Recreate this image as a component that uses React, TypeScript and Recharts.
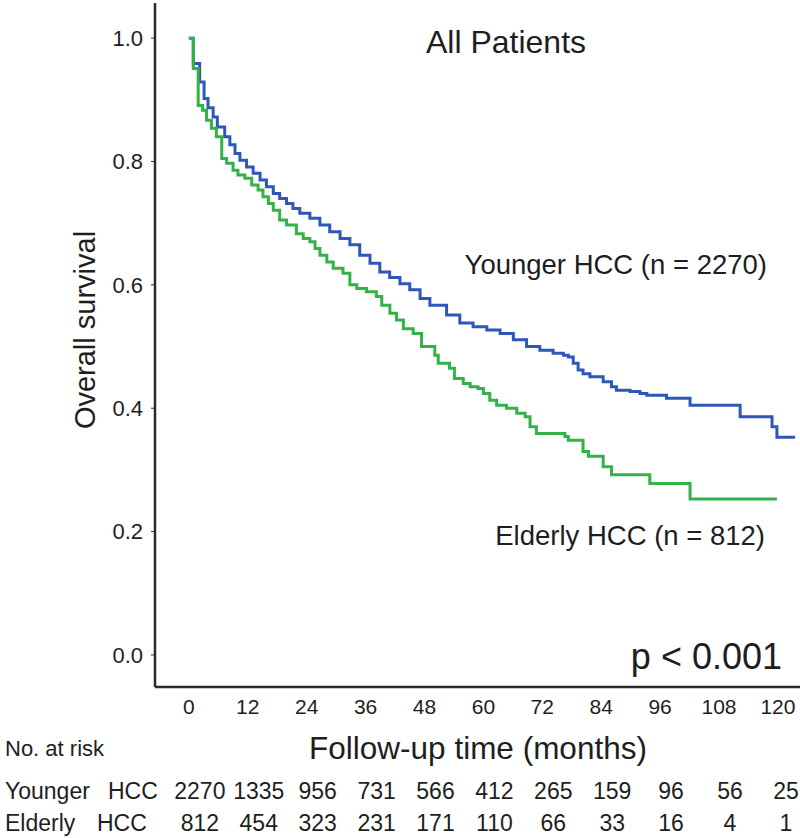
import { LineChart, Line, XAxis, YAxis } from 'recharts';

// Kaplan-Meier steps (month of drop, survival after drop)
const youngerMonths = [
  0, 0.9, 2.2, 3.1, 3.9, 4.95, 5.8, 7.3, 8.35, 9.4, 10.4, 11.75, 13.1, 14.5, 15.8,
  17.2, 18.5, 19.9, 21.2, 22.6, 24.65, 26.7, 28.7, 30.8, 32.8, 34.8, 36.9, 38.9,
  40.9, 43.0, 45.0, 47.1, 49.1, 52.5, 55.2, 57.9, 60.7, 63.4, 66.1, 68.8, 71.5,
  74.2, 76.3, 77.3, 78.3, 79.3, 80.3, 81.7, 84.4, 86.1, 87.1, 89.9, 91.9, 93.3,
  97.3, 102.1, 112.3, 118.8, 119.8, 123.5,
];
const youngerSurvival = [
  1.0, 0.959, 0.929, 0.902, 0.887, 0.872, 0.856, 0.84, 0.827, 0.813, 0.802, 0.791,
  0.781, 0.77, 0.759, 0.748, 0.74, 0.732, 0.724, 0.716, 0.708, 0.697, 0.686, 0.675,
  0.665, 0.648, 0.635, 0.621, 0.612, 0.602, 0.592, 0.578, 0.567, 0.551, 0.538,
  0.532, 0.527, 0.521, 0.511, 0.5, 0.494, 0.489, 0.486, 0.483, 0.473, 0.462, 0.456,
  0.451, 0.443, 0.435, 0.429, 0.427, 0.424, 0.421, 0.416, 0.405, 0.386, 0.37, 0.353,
  0.353,
];

const elderlyMonths = [
  0, 0.9, 1.9, 2.8, 3.6, 4.6, 5.6, 6.7, 7.7, 9.0, 10.0, 11.4, 12.8, 14.1, 15.1,
  16.2, 17.2, 18.5, 19.9, 21.9, 23.3, 24.65, 25.7, 26.7, 28.1, 29.4, 31.4, 32.8,
  34.2, 36.2, 38.2, 39.3, 40.95, 42.3, 43.7, 45.7, 47.4, 50.1, 50.8, 53.1, 54.1,
  55.9, 57.3, 58.9, 60.0, 61.3, 62.7, 64.7, 66.8, 68.5, 69.5, 70.8, 76.6, 77.3,
  80.3, 81.4, 84.4, 86.1, 93.9, 102.1, 119.8,
];
const elderlySurvival = [
  1.0, 0.951, 0.891, 0.883, 0.867, 0.854, 0.84, 0.805, 0.797, 0.786, 0.778, 0.773,
  0.762, 0.754, 0.743, 0.732, 0.721, 0.705, 0.697, 0.683, 0.675, 0.67, 0.659, 0.648,
  0.637, 0.627, 0.619, 0.6, 0.594, 0.589, 0.581, 0.567, 0.554, 0.543, 0.529, 0.521,
  0.5, 0.486, 0.473, 0.465, 0.448, 0.44, 0.435, 0.432, 0.424, 0.413, 0.405, 0.4,
  0.392, 0.386, 0.37, 0.359, 0.354, 0.348, 0.33, 0.322, 0.305, 0.292, 0.278, 0.253,
  0.253,
];

const monthTicks = [0, 12, 24, 36, 48, 60, 72, 84, 96, 108, 120];
const survivalTicks = [0, 0.2, 0.4, 0.6, 0.8, 1.0];
const atRiskYounger = [2270, 1335, 956, 731, 566, 412, 265, 159, 96, 56, 25];
const atRiskElderly = [812, 454, 323, 231, 171, 110, 66, 33, 16, 4, 1];

const youngerData = youngerMonths.map((t, i) => ({ t, s: youngerSurvival[i] }));
const elderlyData = elderlyMonths.map((t, i) => ({ t, s: elderlySurvival[i] }));

const FONT = '"Liberation Sans", Arial, sans-serif';
const INK = '#1e1e1e';

function MonthTick(props: any) {
  const { x, y, payload } = props;
  const i = monthTicks.indexOf(payload.value);
  // keep the last column of the risk table inside the page
  const rx = Math.min(x + 11, 786);
  return (
    <g fontFamily={FONT} fill={INK}>
      <text x={x} y={y + 27} textAnchor="middle" fontSize={21}>
        {payload.value}
      </text>
      <text x={rx} y={y + 112} textAnchor="middle" fontSize={23}>
        {atRiskYounger[i]}
      </text>
      <text x={rx} y={y + 144} textAnchor="middle" fontSize={23}>
        {atRiskElderly[i]}
      </text>
    </g>
  );
}

export default function App() {
  return (
    <div style={{ position: 'absolute', left: 0, top: 0, width: 800, height: 838, background: '#fff' }}>
      <LineChart
        width={800}
        height={838}
        margin={{ top: 3, right: 0, left: 95, bottom: 0 }}
      >
        <XAxis
          type="number"
          dataKey="t"
          domain={[-6.9, 124.5]}
          ticks={monthTicks}
          allowDataOverflow
          height={151}
          tickLine={false}
          tickSize={0}
          tickMargin={0}
          axisLine={{ stroke: '#2a2a2a', strokeWidth: 2.5 }}
          tick={<MonthTick />}
          interval={0}
        />
        <YAxis
          type="number"
          domain={[-0.052, 1.057]}
          ticks={survivalTicks}
          allowDataOverflow
          width={60}
          tickSize={4}
          tickMargin={8}
          tickLine={{ stroke: '#2a2a2a', strokeWidth: 1 }}
          axisLine={{ stroke: '#2a2a2a', strokeWidth: 2.5 }}
          tickFormatter={(v: number) => v.toFixed(1)}
          tick={{ fontSize: 22, fill: INK, fontFamily: FONT }}
        />
        <Line
          data={youngerData}
          dataKey="s"
          type="stepAfter"
          stroke="#2f57b8"
          strokeWidth={3}
          dot={false}
          isAnimationActive={false}
        />
        <Line
          data={elderlyData}
          dataKey="s"
          type="stepAfter"
          stroke="#34b24a"
          strokeWidth={3}
          dot={false}
          isAnimationActive={false}
        />
      </LineChart>
      <svg
        width={800}
        height={838}
        style={{ position: 'absolute', left: 0, top: 0, pointerEvents: 'none' }}
        fontFamily={FONT}
        fill={INK}
      >
        <text x={85} y={330} fontSize={29} textAnchor="middle" dominantBaseline="central" transform="rotate(-90 85 330)">
          Overall survival
        </text>
        <text x={506} y={53} fontSize={32} textAnchor="middle">All Patients</text>
        <text x={767} y={274} fontSize={27.5} textAnchor="end">Younger HCC (n = 2270)</text>
        <text x={765} y={545} fontSize={27.5} textAnchor="end">Elderly HCC (n = 812)</text>
        <text x={782} y={669} fontSize={36} textAnchor="end">p &lt; 0.001</text>
        <text x={478} y={759} fontSize={31.5} textAnchor="middle">Follow-up time (months)</text>
        <text x={5} y={756} fontSize={22}>No. at risk</text>
        <text x={5} y={799} fontSize={23}>Younger</text>
        <text x={108} y={799} fontSize={23}>HCC</text>
        <text x={5} y={831} fontSize={23}>Elderly</text>
        <text x={97} y={831} fontSize={23}>HCC</text>
      </svg>
    </div>
  );
}
